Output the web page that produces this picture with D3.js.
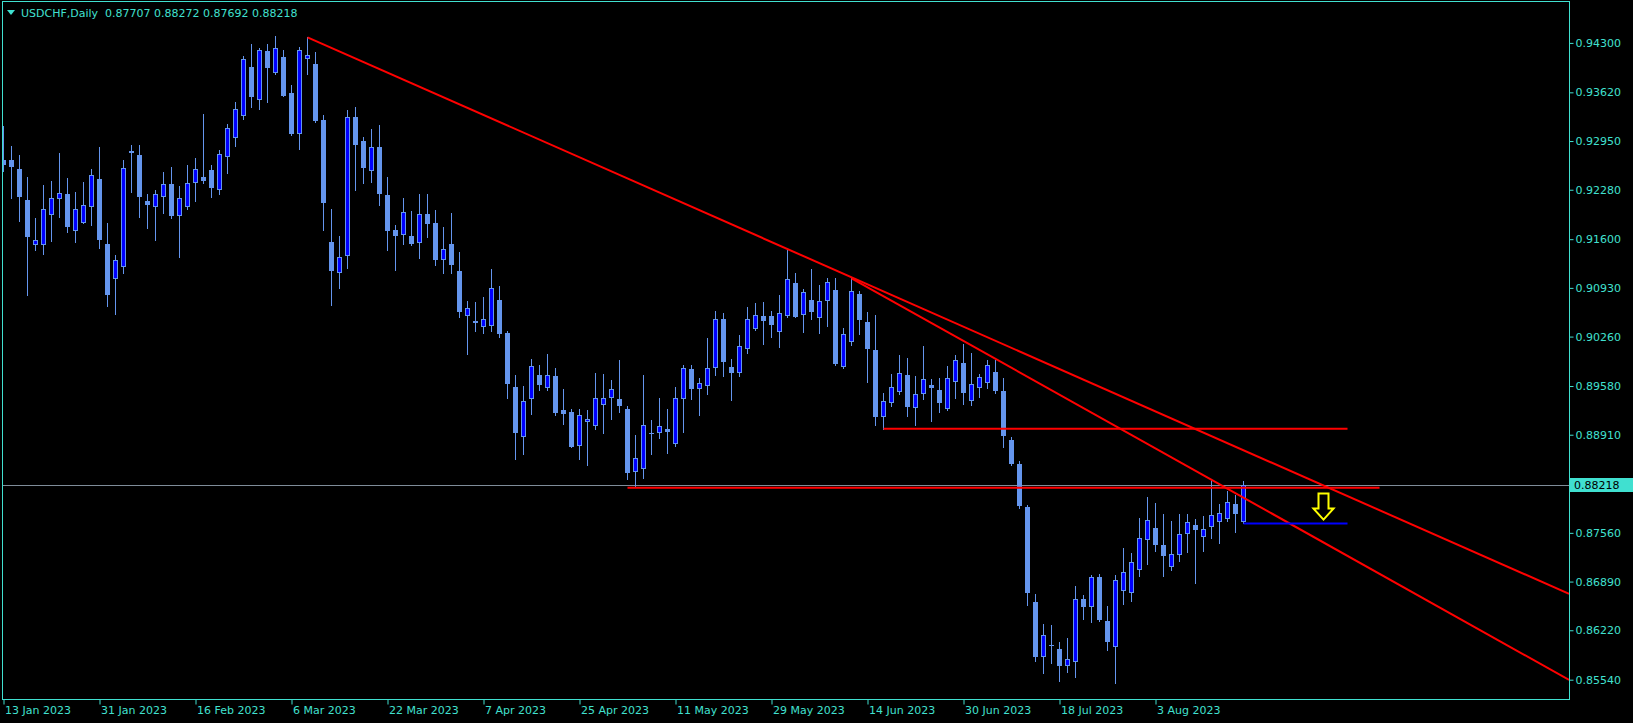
<!DOCTYPE html>
<html><head><meta charset="utf-8">
<script src="https://cdn.jsdelivr.net/npm/d3@7"></script>
<style>
html,body{margin:0;padding:0;background:#000;overflow:hidden}
text{font-family:"DejaVu Sans",sans-serif;font-size:11px}
</style></head>
<body><svg id="c" width="1633" height="723"></svg>
<script>
const opens=[0.92689,0.92689,0.92566,0.92139,0.91516,0.91525,0.91928,0.92148,0.92222,0.91717,
0.91827,0.92038,0.92428,0.91534,0.91048,0.91213,0.92813,0.92758,0.92121,0.92038,
0.92176,0.92359,0.91914,0.92038,0.92368,0.92455,0.92552,0.92272,0.92726,0.92987,
0.93290,0.93964,0.93510,0.94189,0.93891,0.94106,0.93611,0.93042,0.94074,0.94010,
0.93239,0.91561,0.91140,0.91373,0.93276,0.92951,0.92533,0.92868,0.92208,0.91726,
0.91653,0.91644,0.91543,0.91947,0.91823,0.91309,0.91534,0.91162,0.90539,0.90475,
0.90388,0.90401,0.90764,0.90310,0.89567,0.88874,0.89397,0.89732,0.89548,0.89718,
0.89250,0.89223,0.88751,0.89081,0.89026,0.89315,0.89411,0.89402,0.89264,0.88393,
0.88434,0.88934,0.88930,0.88989,0.88778,0.89397,0.89814,0.89535,0.89576,0.89824,
0.90502,0.89842,0.89755,0.90085,0.90360,0.90543,0.90543,0.90319,0.90548,0.90997,
0.90553,0.90764,0.90511,0.90745,0.90901,0.89837,0.90181,0.90846,0.90461,0.90076,
0.89150,0.89342,0.89503,0.89732,0.89273,0.89466,0.89594,0.89526,0.89260,0.89631,
0.89892,0.89370,0.89549,0.89617,0.89769,0.89512,0.88838,0.88508,0.87916,0.86610,
0.85848,0.86018,0.85963,0.85734,0.85780,0.86651,0.86545,0.86953,0.86348,0.85995,
0.86765,0.86738,0.87054,0.87467,0.87627,0.87393,0.87096,0.87261,0.87549,0.87669,
0.87508,0.87646,0.87715,0.87756,0.87957,0.87707];
const highs=[0.93157,0.92882,0.92758,0.92455,0.91892,0.92345,0.92400,0.92786,0.92442,0.92249,
0.92387,0.92566,0.92868,0.91823,0.91382,0.92689,0.92896,0.92896,0.92226,0.92277,
0.92524,0.92593,0.92332,0.92621,0.92717,0.93322,0.92621,0.92827,0.93184,0.93487,
0.94120,0.94285,0.94225,0.94285,0.94395,0.94202,0.93721,0.94244,0.94377,0.94175,
0.93308,0.92015,0.91644,0.93377,0.93418,0.93006,0.93116,0.93171,0.92455,0.91795,
0.92167,0.91988,0.92222,0.92222,0.92002,0.91768,0.91960,0.91424,0.90750,0.90736,
0.90805,0.91190,0.90956,0.90337,0.89732,0.89581,0.89952,0.89869,0.90021,0.89828,
0.89539,0.89262,0.89264,0.89246,0.89759,0.89746,0.89663,0.89938,0.89305,0.88907,
0.89732,0.89113,0.89416,0.89264,0.89567,0.89869,0.89869,0.89691,0.90241,0.90617,
0.90585,0.89952,0.90282,0.90667,0.90722,0.90736,0.90612,0.90832,0.91451,0.91135,
0.90915,0.91190,0.90970,0.91066,0.91066,0.90374,0.91062,0.90887,0.90598,0.90557,
0.89484,0.89746,0.90007,0.89966,0.89718,0.90131,0.89677,0.89691,0.89856,0.90007,
0.90158,0.90035,0.89746,0.89938,0.89938,0.89691,0.88880,0.88549,0.87944,0.86720,
0.86312,0.86293,0.86059,0.86114,0.86830,0.86706,0.86981,0.86995,0.86554,0.86981,
0.87352,0.87284,0.87765,0.88054,0.87971,0.87820,0.87724,0.87820,0.87820,0.87751,
0.87792,0.88288,0.87957,0.88136,0.88081,0.88272];
const lows=[0.92543,0.92171,0.91855,0.90832,0.91451,0.91401,0.91580,0.91910,0.91704,0.91566,
0.91820,0.91800,0.91483,0.90686,0.90576,0.91140,0.92254,0.91910,0.91759,0.91593,
0.91965,0.91896,0.91360,0.92020,0.92130,0.92378,0.92185,0.92226,0.92515,0.92886,
0.93249,0.93423,0.93395,0.93492,0.93877,0.93570,0.93033,0.92845,0.93877,0.93217,
0.91726,0.90695,0.90933,0.91208,0.92281,0.92378,0.92391,0.92075,0.91456,0.91181,
0.91538,0.91525,0.91346,0.91635,0.91250,0.91140,0.91140,0.90534,0.90025,0.90342,
0.90314,0.90342,0.90259,0.89420,0.88576,0.88650,0.89200,0.89530,0.89530,0.89186,
0.89062,0.88740,0.88581,0.88499,0.88994,0.88939,0.89131,0.89228,0.88306,0.88196,
0.88320,0.88650,0.88870,0.88664,0.88760,0.88953,0.89406,0.89186,0.89475,0.89736,
0.89723,0.89392,0.89723,0.90039,0.90351,0.90163,0.90255,0.90122,0.90525,0.90525,
0.90328,0.90507,0.90314,0.90406,0.89869,0.89830,0.90140,0.90300,0.89640,0.89049,
0.88994,0.89310,0.89475,0.89173,0.89049,0.89406,0.89104,0.89223,0.89255,0.89420,
0.89338,0.89324,0.89434,0.89558,0.89489,0.88746,0.88494,0.87907,0.86573,0.85803,
0.85638,0.85766,0.85527,0.85651,0.85582,0.86380,0.86339,0.86353,0.85954,0.85500,
0.86587,0.86623,0.86972,0.87137,0.87316,0.86972,0.87054,0.87178,0.87302,0.86875,
0.87316,0.87494,0.87426,0.87728,0.87577,0.87692];
const closes=[0.92621,0.92598,0.92185,0.91635,0.91584,0.92011,0.92162,0.92231,0.91772,0.92011,
0.92066,0.92478,0.91593,0.90837,0.91314,0.92575,0.92790,0.92185,0.92075,0.92217,
0.92355,0.91924,0.92162,0.92368,0.92561,0.92405,0.92309,0.92767,0.93125,0.93386,
0.94074,0.93560,0.94198,0.93959,0.94225,0.93574,0.93047,0.94198,0.94129,0.93230,
0.92102,0.91167,0.91350,0.93276,0.92900,0.92584,0.92864,0.92226,0.91717,0.91649,
0.91969,0.91538,0.91947,0.91814,0.91318,0.91461,0.91250,0.90603,0.90649,0.90452,
0.90498,0.90924,0.90301,0.89613,0.88939,0.89370,0.89856,0.89599,0.89727,0.89209,
0.89200,0.88746,0.89177,0.89122,0.89411,0.89411,0.89535,0.89310,0.88388,0.88586,
0.89040,0.88925,0.89026,0.88953,0.89411,0.89824,0.89544,0.89617,0.89824,0.90498,
0.89915,0.89764,0.90126,0.90498,0.90553,0.90479,0.90424,0.90580,0.91048,0.90534,
0.90869,0.90603,0.90745,0.91006,0.89883,0.90291,0.90883,0.90493,0.90094,0.89159,
0.89370,0.89567,0.89755,0.89296,0.89466,0.89672,0.89558,0.89351,0.89691,0.89934,
0.89489,0.89604,0.89700,0.89865,0.89512,0.88897,0.88508,0.87935,0.86738,0.85858,
0.86151,0.86009,0.85734,0.85826,0.86646,0.86545,0.86953,0.86367,0.86064,0.86912,
0.87022,0.87160,0.87490,0.87737,0.87398,0.87247,0.87270,0.87545,0.87710,0.87604,
0.87614,0.87806,0.87834,0.87985,0.87820,0.88218];

const startDate="2023-01-13";
const xTickLabels=["13 Jan 2023","31 Jan 2023","16 Feb 2023","6 Mar 2023","22 Mar 2023","7 Apr 2023","25 Apr 2023","11 May 2023","29 May 2023","14 Jun 2023","30 Jun 2023","18 Jul 2023","3 Aug 2023"];
const yTickValues=[0.94300,0.93620,0.92950,0.92280,0.91600,0.90930,0.90260,0.89580,0.88910,0.87560,0.86890,0.86220,0.85540];
const bidPrice=0.88218;
const headerText="USDCHF,Daily  0.87707 0.88272 0.87692 0.88218";
// trend lines: [startBar, startPrice, endBar, endPrice]
const trendLines=[[38,0.94377,195.7,0.86721],[106,0.91062,195.7,0.85537]];
// horizontal levels: [fromBar, toBar, price]
const redLevels=[[110,168,0.88993],[78,172,0.88182]];
const blueLevels=[[155,168,0.87690]];
// arrow: [bar, price]
const arrowMarks=[[165,0.88100]];

const W=1633,H=723;
const frame={l:2,t:1,r:1569,b:699};
const TEAL="#40E0D0", BEAR="#6495ED", BULL="#0000FF";

// trading days (Mon-Fri) from start date
const parse=d3.timeParse("%Y-%m-%d"), fmt=d3.timeFormat("%-d %b %Y");
const dates=[]; {let d=parse(startDate); while(dates.length<opens.length){const wd=d.getDay(); if(wd!==0&&wd!==6) dates.push(new Date(d)); d=d3.timeDay.offset(d,1);}}
const dateLabels=dates.map(fmt);

const x=d3.scaleLinear().domain([0,195.7]).range([3.5,3.5+8*195.7]);
const y=d3.scaleLinear().domain([0.943,0.8554]).range([42.9,679.7]);

const svg=d3.select("#c");
svg.append("rect").attr("width",W).attr("height",H).attr("fill","#000");
svg.append("clipPath").attr("id","clip").append("rect")
  .attr("x",frame.l+1).attr("y",frame.t+1).attr("width",frame.r-frame.l-1).attr("height",frame.b-frame.t-1);
const plot=svg.append("g").attr("clip-path","url(#clip)");

// bid line
plot.append("line").attr("x1",frame.l).attr("x2",frame.r)
  .attr("y1",Math.round(y(bidPrice))+0.5).attr("y2",Math.round(y(bidPrice))+0.5)
  .attr("stroke","#7f8c99").attr("stroke-width",1);

const data=opens.map((o,i)=>({i,o,h:highs[i],l:lows[i],c:closes[i]}));
const cx=d=>Math.round(x(d.i)-0.5)+0.5;
// wicks
plot.append("g").selectAll("line").data(data).join("line")
  .attr("x1",cx).attr("x2",cx)
  .attr("y1",d=>Math.round(y(d.h))).attr("y2",d=>Math.round(y(d.l))+1)
  .attr("stroke",BEAR).attr("stroke-width",1);
// bodies
const bodies=plot.append("g");
data.forEach(d=>{
  const top=Math.round(y(Math.max(d.o,d.c))), bot=Math.round(y(Math.min(d.o,d.c)));
  const X=cx(d);
  if(d.c>d.o){
    bodies.append("rect").attr("x",X-2).attr("y",top+0.5).attr("width",4)
      .attr("height",Math.max(0,bot-top-1)).attr("fill",BULL).attr("stroke",BEAR).attr("stroke-width",1);
  } else {
    bodies.append("rect").attr("x",X-2.5).attr("y",top).attr("width",5)
      .attr("height",Math.max(1,bot-top)).attr("fill",BEAR);
  }
});

// red horizontal levels
plot.append("g").selectAll("line").data(redLevels).join("line")
  .attr("x1",d=>x(d[0])).attr("x2",d=>x(d[1]))
  .attr("y1",d=>y(d[2])).attr("y2",d=>y(d[2]))
  .attr("stroke","#ff0000").attr("stroke-width",2);
// trend lines
plot.append("g").selectAll("line").data(trendLines).join("line")
  .attr("x1",d=>x(d[0])).attr("y1",d=>y(d[1]))
  .attr("x2",d=>x(d[2])).attr("y2",d=>y(d[3]))
  .attr("stroke","#ff0000").attr("stroke-width",2);
// blue level
plot.append("g").selectAll("line").data(blueLevels).join("line")
  .attr("x1",d=>x(d[0])).attr("x2",d=>x(d[1]))
  .attr("y1",d=>y(d[2])).attr("y2",d=>y(d[2]))
  .attr("stroke","#0000ff").attr("stroke-width",2);
// arrow
plot.append("g").selectAll("path").data(arrowMarks).join("path")
  .attr("d",d=>{const ax=x(d[0]),ay=y(d[1]);
    return `M${ax-5},${ay}L${ax+5},${ay}L${ax+5},${ay+15}L${ax+10},${ay+15}L${ax},${ay+26}L${ax-10},${ay+15}L${ax-5},${ay+15}Z`;})
  .attr("fill","none").attr("stroke","#ffff00").attr("stroke-width",2).attr("stroke-linejoin","miter");

// frame
svg.append("rect").attr("x",frame.l+0.5).attr("y",frame.t+0.5)
  .attr("width",frame.r-frame.l).attr("height",frame.b-frame.t)
  .attr("fill","none").attr("stroke",TEAL).attr("stroke-width",1);

// right axis
const ya=svg.append("g").attr("transform",`translate(${frame.r+0.5},0)`)
  .call(d3.axisRight(y).tickValues(yTickValues).tickSize(4).tickPadding(2).tickFormat(d3.format(".5f")));
ya.select(".domain").remove();
ya.selectAll("line").attr("stroke",TEAL);
ya.selectAll("text").attr("fill",TEAL).style("font-family","DejaVu Sans").style("font-size","11px");

// bottom axis
const tickIdx=xTickLabels.map(l=>dateLabels.indexOf(l));
const xa=svg.append("g").attr("transform",`translate(0,${frame.b+0.5})`)
  .call(d3.axisBottom(x).tickValues(tickIdx).tickSize(5).tickPadding(3).tickFormat((d,k)=>xTickLabels[k]));
xa.select(".domain").remove();
xa.selectAll("line").attr("stroke",TEAL);
xa.selectAll("text").attr("fill",TEAL).attr("text-anchor","start").attr("x",1).attr("dy","0.55em")
  .style("font-family","DejaVu Sans").style("font-size","11px");

// bid price label
const by=Math.round(y(bidPrice));
svg.append("rect").attr("x",frame.r+1).attr("y",by-7).attr("width",W-frame.r-1).attr("height",14).attr("fill",TEAL);
svg.append("text").attr("x",frame.r+5).attr("y",by+4).attr("fill","#000").text(d3.format(".5f")(bidPrice));

// header
svg.append("path").attr("d","M7,10L15,10L11,15Z").attr("fill",TEAL);
svg.append("text").attr("x",21).attr("y",17).attr("fill",TEAL).attr("xml:space","preserve").style("white-space","pre").text(headerText);
</script></body></html>
